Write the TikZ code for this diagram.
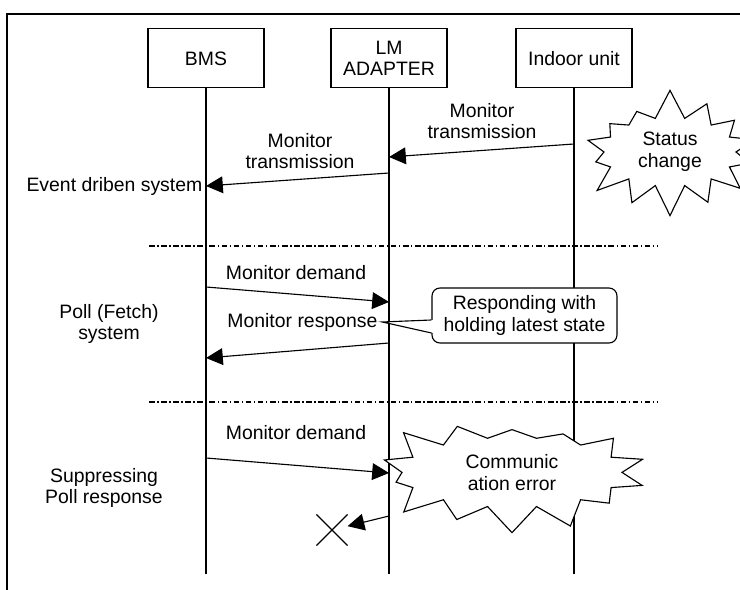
\documentclass[tikz,border=0pt]{standalone}
\usepackage{fontspec}
\setmainfont{Liberation Sans}
\usetikzlibrary{arrows.meta, shapes.symbols, shapes.misc}

\tikzset{
  unit/.style={draw, line width=0.8pt, minimum width=2.9cm, minimum height=1.475cm, align=center},
  life/.style={line width=0.8pt},
  msg/.style={line width=0.8pt, -{Triangle[length=0.42cm, width=0.42cm]}},
  sepline/.style={line width=1pt, dash pattern=on 4pt off 1.8pt on 1pt off 1.8pt},
  burst/.style={draw, fill=white, starburst, starburst points=14, starburst point height=0.75cm, line width=0.8pt, align=center},
}

\begin{document}
\begin{tikzpicture}[font=\fontsize{13.8}{15.5}\selectfont]
\useasboundingbox (0,0) rectangle (18.5,14.75);
%\draw[step=1cm,gray,very thin] (0,0) grid (18.5,14.75); %background grid
\draw[line width=1.5pt] (0.175,-0.2) -- (0.175,14.4) -- (18.7,14.4);

% units and lifelines
\node[unit] (bms) at (5.15,13.29) {BMS};
\node[unit] (lm) at (9.725,13.29) {LM\\ADAPTER};
\node[unit] (iu) at (14.35,13.29) {Indoor unit};
\coordinate (bmsend) at (5.15,0.4);
\coordinate (lmend) at (9.725,0.4);
\coordinate (iuend) at (14.35,0.4);
\draw[life] (bms.south) -- (bmsend);
\draw[life] (lm.south) -- (lmend);
\draw[life] (iu.south) -- (iuend);

% event driven
\coordinate (iu1) at (14.35,11.15);
\coordinate (lm1) at (9.725,10.825);
\coordinate (lm2) at (9.725,10.425);
\coordinate (bms2) at (5.15,10.1);
\draw[msg] (iu1) -- (lm1);
\draw[msg] (lm2) -- (bms2);
\node[align=center] (tr1) at (12.05,11.725) {Monitor\\transmission};
\node[align=center] (tr2) at (7.5,10.975) {Monitor\\transmission};
\node[anchor=east, inner sep=1pt] (ev) at (5.1,10.1) {Event driben system};
\node[burst, random starburst=7, minimum width=4.8cm, minimum height=2.8cm] (stat) at (16.75,10.95) {Status\\change};

\coordinate (sep1a) at (3.725,8.6);
\coordinate (sep1b) at (16.45,8.6);
\draw[sepline] (sep1a) -- (sep1b);

% poll
\coordinate (bms3) at (5.15,7.575);
\coordinate (lm3) at (9.725,7.2);
\coordinate (lm4) at (9.725,6.175);
\coordinate (bms4) at (5.15,5.8);
\draw[msg] (bms3) -- (lm3);
\draw[msg] (lm4) -- (bms4);
\node[] (dem1) at (7.4,7.925) {Monitor demand};
\node[] (mresp) at (7.56,6.7) {Monitor response};
\node[align=center] (poll) at (2.725,6.65) {Poll (Fetch)\\system};
\node[draw, fill=white, line width=0.8pt, rounded corners=0.2cm, minimum width=4.625cm, minimum height=1.375cm, align=center] (resp) at (13.1125,6.8625) {Responding with\\holding latest state};
\fill[white] (mresp.east) -- ([xshift=0.05cm,yshift=-0.1125cm]resp.west) -- ([xshift=0.05cm,yshift=-0.4375cm]resp.west) -- cycle;
\draw[line width=0.8pt] ([yshift=-0.1125cm]resp.west) -- (mresp.east) -- ([yshift=-0.4375cm]resp.west);

\coordinate (sep2a) at (3.725,4.7);
\coordinate (sep2b) at (16.45,4.7);
\draw[sepline] (sep2a) -- (sep2b);

% suppressing
\node[burst, random starburst=23, minimum width=7cm, minimum height=3.25cm] (err) at (12.8,2.94) {Communic\\ation error};
\coordinate (bms5) at (5.15,3.3);
\coordinate (lm5) at (9.725,2.925);
\coordinate (lm6) at (9.725,1.85);
\draw[msg] (bms5) -- (lm5);
\node[] (dem2) at (7.4,3.925) {Monitor demand};
\node[align=center] (supp) at (2.6,2.55) {Suppressing\\Poll response};
\node[draw, cross out, line width=0.8pt, minimum size=0.75cm, inner sep=0pt] (lost) at (8.3,1.5) {};
\draw[msg] (lm6) -- (lost);
\end{tikzpicture}
\end{document}
